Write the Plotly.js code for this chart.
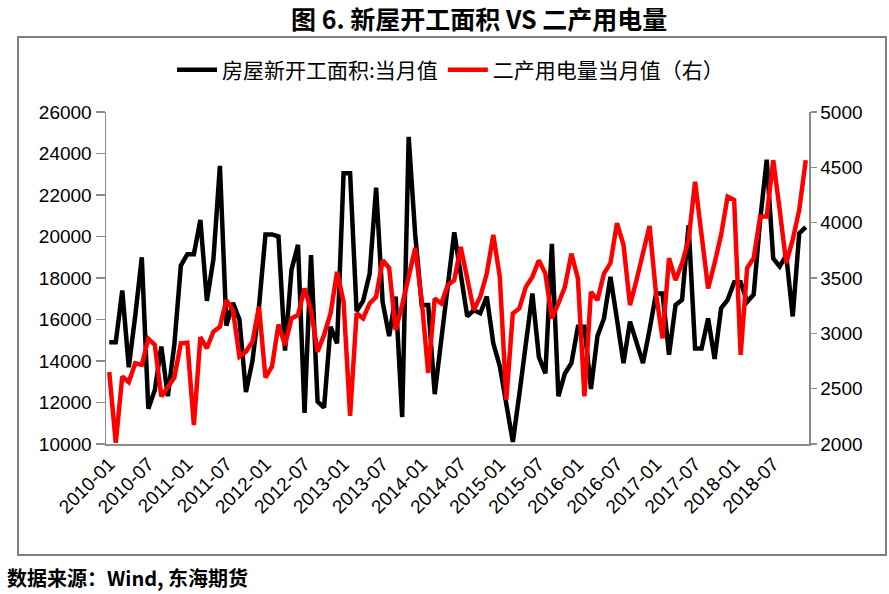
<!DOCTYPE html>
<html>
<head>
<meta charset="utf-8">
<script src="https://cdn.plot.ly/plotly-3.0.1.min.js"></script>
<style>html,body{margin:0;padding:0;background:#fff;}#chart{width:889px;height:594px;}</style>
</head>
<body>
<div id="chart"></div>
<script>
// Categories: months 2010-01 .. 2018-12
var years = [2010, 2011, 2012, 2013, 2014, 2015, 2016, 2017, 2018];
var monthNums = ['01','02','03','04','05','06','07','08','09','10','11','12'];
var months = [];
years.forEach(function (y) { monthNums.forEach(function (m) { months.push(y + '-' + m); }); });

// Tick labels shown every six months
var tickLabels = ['2010-01','2010-07','2011-01','2011-07','2012-01','2012-07','2013-01','2013-07',
  '2014-01','2014-07','2015-01','2015-07','2016-01','2016-07','2017-01','2017-07','2018-01','2018-07'];

// 房屋新开工面积:当月值 (left axis)
var housingStarts = [
  14900, 14900, 17400, 13700, 16200, 19000, 11700, 12600, 14700, 12300, 14800, 18600,
  19150, 19150, 20800, 16900, 18900, 23400, 15700, 16800, 16000, 12500, 14000, 16600,
  20100, 20100, 20000, 14500, 18400, 19600, 11500, 19100, 12050, 11750, 15650, 14850,
  23050, 23050, 16400, 16900, 18200, 22350, 16850, 15200, 17100, 11300, 24800, 20100,
  16700, 16700, 12400, 14800, 17600, 20200, 18200, 16150, 16450, 16300, 17100, 14850,
  13750, 11900, 10100, 12400, 14700, 17250, 14200, 13400, 19650, 12300, 13400, 13900,
  15650, 15650, 12650, 15200, 16050, 18050, 16000, 13900, 15900, 14850, 13900, 15500,
  17250, 17250, 14300, 16700, 16950, 20550, 14600, 14600, 16050, 14100, 16550, 16950,
  17800, 17800, 16850, 17200, 20800, 23700, 18950, 18550, 19100, 16150, 20150, 20450
];

// 二产用电量当月值 (right axis)
var industryPower = [
  2650, 2010, 2610, 2560, 2730, 2715, 2950, 2895, 2430, 2520, 2600, 2910,
  2915, 2170, 2965, 2865, 3015, 3060, 3300, 3210, 2790, 2835, 2925, 3240,
  2600, 2700, 3080, 2895, 3135, 3165, 3405, 3210, 2835, 2985, 3180, 3555,
  3285, 2255, 3180, 3135, 3270, 3330, 3660, 3590, 3030, 3255, 3510, 3770,
  3300, 2640, 3315, 3270, 3435, 3480, 3780, 3510, 3210, 3330, 3540, 3890,
  3510, 2400, 3180, 3225, 3420, 3510, 3660, 3540, 3135, 3270, 3420, 3720,
  3495, 2430, 3375, 3300, 3540, 3635, 3995, 3800, 3255, 3480, 3740, 3970,
  3360, 2955, 3680, 3480, 3635, 3845, 4370, 3890, 3405, 3635, 3890, 4235,
  4205, 2805, 3590, 3680, 4055, 4055, 4565, 4115, 3635, 3845, 4115, 4565
];

var seriesNames = ['房屋新开工面积:当月值', '二产用电量当月值（右）'];
var chartTitle = '图 6. 新屋开工面积 VS 二产用电量';
var sourceText = '数据来源：Wind, 东海期货';

var cjk = '"Noto Sans CJK SC", "Noto Sans", sans-serif';
var latin = '"Liberation Sans", Arial, sans-serif';

var traces = [
  { x: months, y: housingStarts, name: seriesNames[0], type: 'scatter', mode: 'lines',
    line: { color: '#000000', width: 4.5 }, yaxis: 'y' },
  { x: months, y: industryPower, name: seriesNames[1], type: 'scatter', mode: 'lines',
    line: { color: '#FF0000', width: 4.5 }, yaxis: 'y2' }
];

var L = 106, R = 809, T = 112, B = 444;
function px(x) { return (x - L) / (R - L); }
function py(y) { return (B - y) / (B - T); }

var layout = {
  width: 889, height: 594,
  paper_bgcolor: '#ffffff', plot_bgcolor: '#ffffff',
  margin: { l: L, r: 889 - R, t: T, b: 594 - B, pad: 0 },
  showlegend: true,
  legend: {
    orientation: 'h', x: px(172), xanchor: 'left', y: py(70), yanchor: 'middle',
    font: { family: cjk, size: 21, color: '#000' }, bgcolor: 'rgba(0,0,0,0)',
    itemwidth: 40, traceorder: 'normal'
  },
  xaxis: {
    type: 'category', range: [-0.5, months.length - 0.5],
    tickmode: 'array', tickvals: tickLabels, ticktext: tickLabels,
    tickangle: -45, ticks: '', showgrid: false, zeroline: false,
    showline: true, linecolor: '#8c8c8c', linewidth: 1.5,
    tickfont: { family: latin, size: 19, color: '#000' }
  },
  yaxis: {
    range: [10000, 26000], tickmode: 'linear', tick0: 10000, dtick: 2000, tickformat: 'd',
    ticks: 'outside', ticklen: 9, tickcolor: '#8c8c8c', tickwidth: 1.5,
    showgrid: false, zeroline: false, showline: true, linecolor: '#8c8c8c', linewidth: 1.5,
    tickfont: { family: latin, size: 19, color: '#000' }
  },
  yaxis2: {
    range: [2000, 5000], tickmode: 'linear', tick0: 2000, dtick: 500, tickformat: 'd',
    overlaying: 'y', side: 'right',
    ticks: 'outside', ticklen: 6, tickcolor: '#8c8c8c', tickwidth: 1.5,
    showgrid: false, zeroline: false, showline: true, linecolor: '#8c8c8c', linewidth: 1.5,
    tickfont: { family: latin, size: 19, color: '#000' }
  },
  shapes: [
    { type: 'rect', xref: 'paper', yref: 'paper', x0: px(18), x1: px(886), y0: py(555), y1: py(37),
      line: { color: '#808080', width: 2 }, fillcolor: 'rgba(0,0,0,0)', layer: 'below' }
  ],
  annotations: [
    { text: '<b>' + chartTitle + '</b>', xref: 'paper', yref: 'paper',
      x: px(479), xanchor: 'center', y: py(18), yanchor: 'middle', showarrow: false,
      font: { family: cjk, size: 25, color: '#000' } },
    { text: '<b>' + sourceText + '</b>', xref: 'paper', yref: 'paper',
      x: px(5), xanchor: 'left', y: py(577), yanchor: 'middle', showarrow: false,
      font: { family: cjk, size: 20, color: '#000' } }
  ]
};

Plotly.newPlot('chart', traces, layout, { displayModeBar: false, staticPlot: true });
</script>
</body>
</html>
